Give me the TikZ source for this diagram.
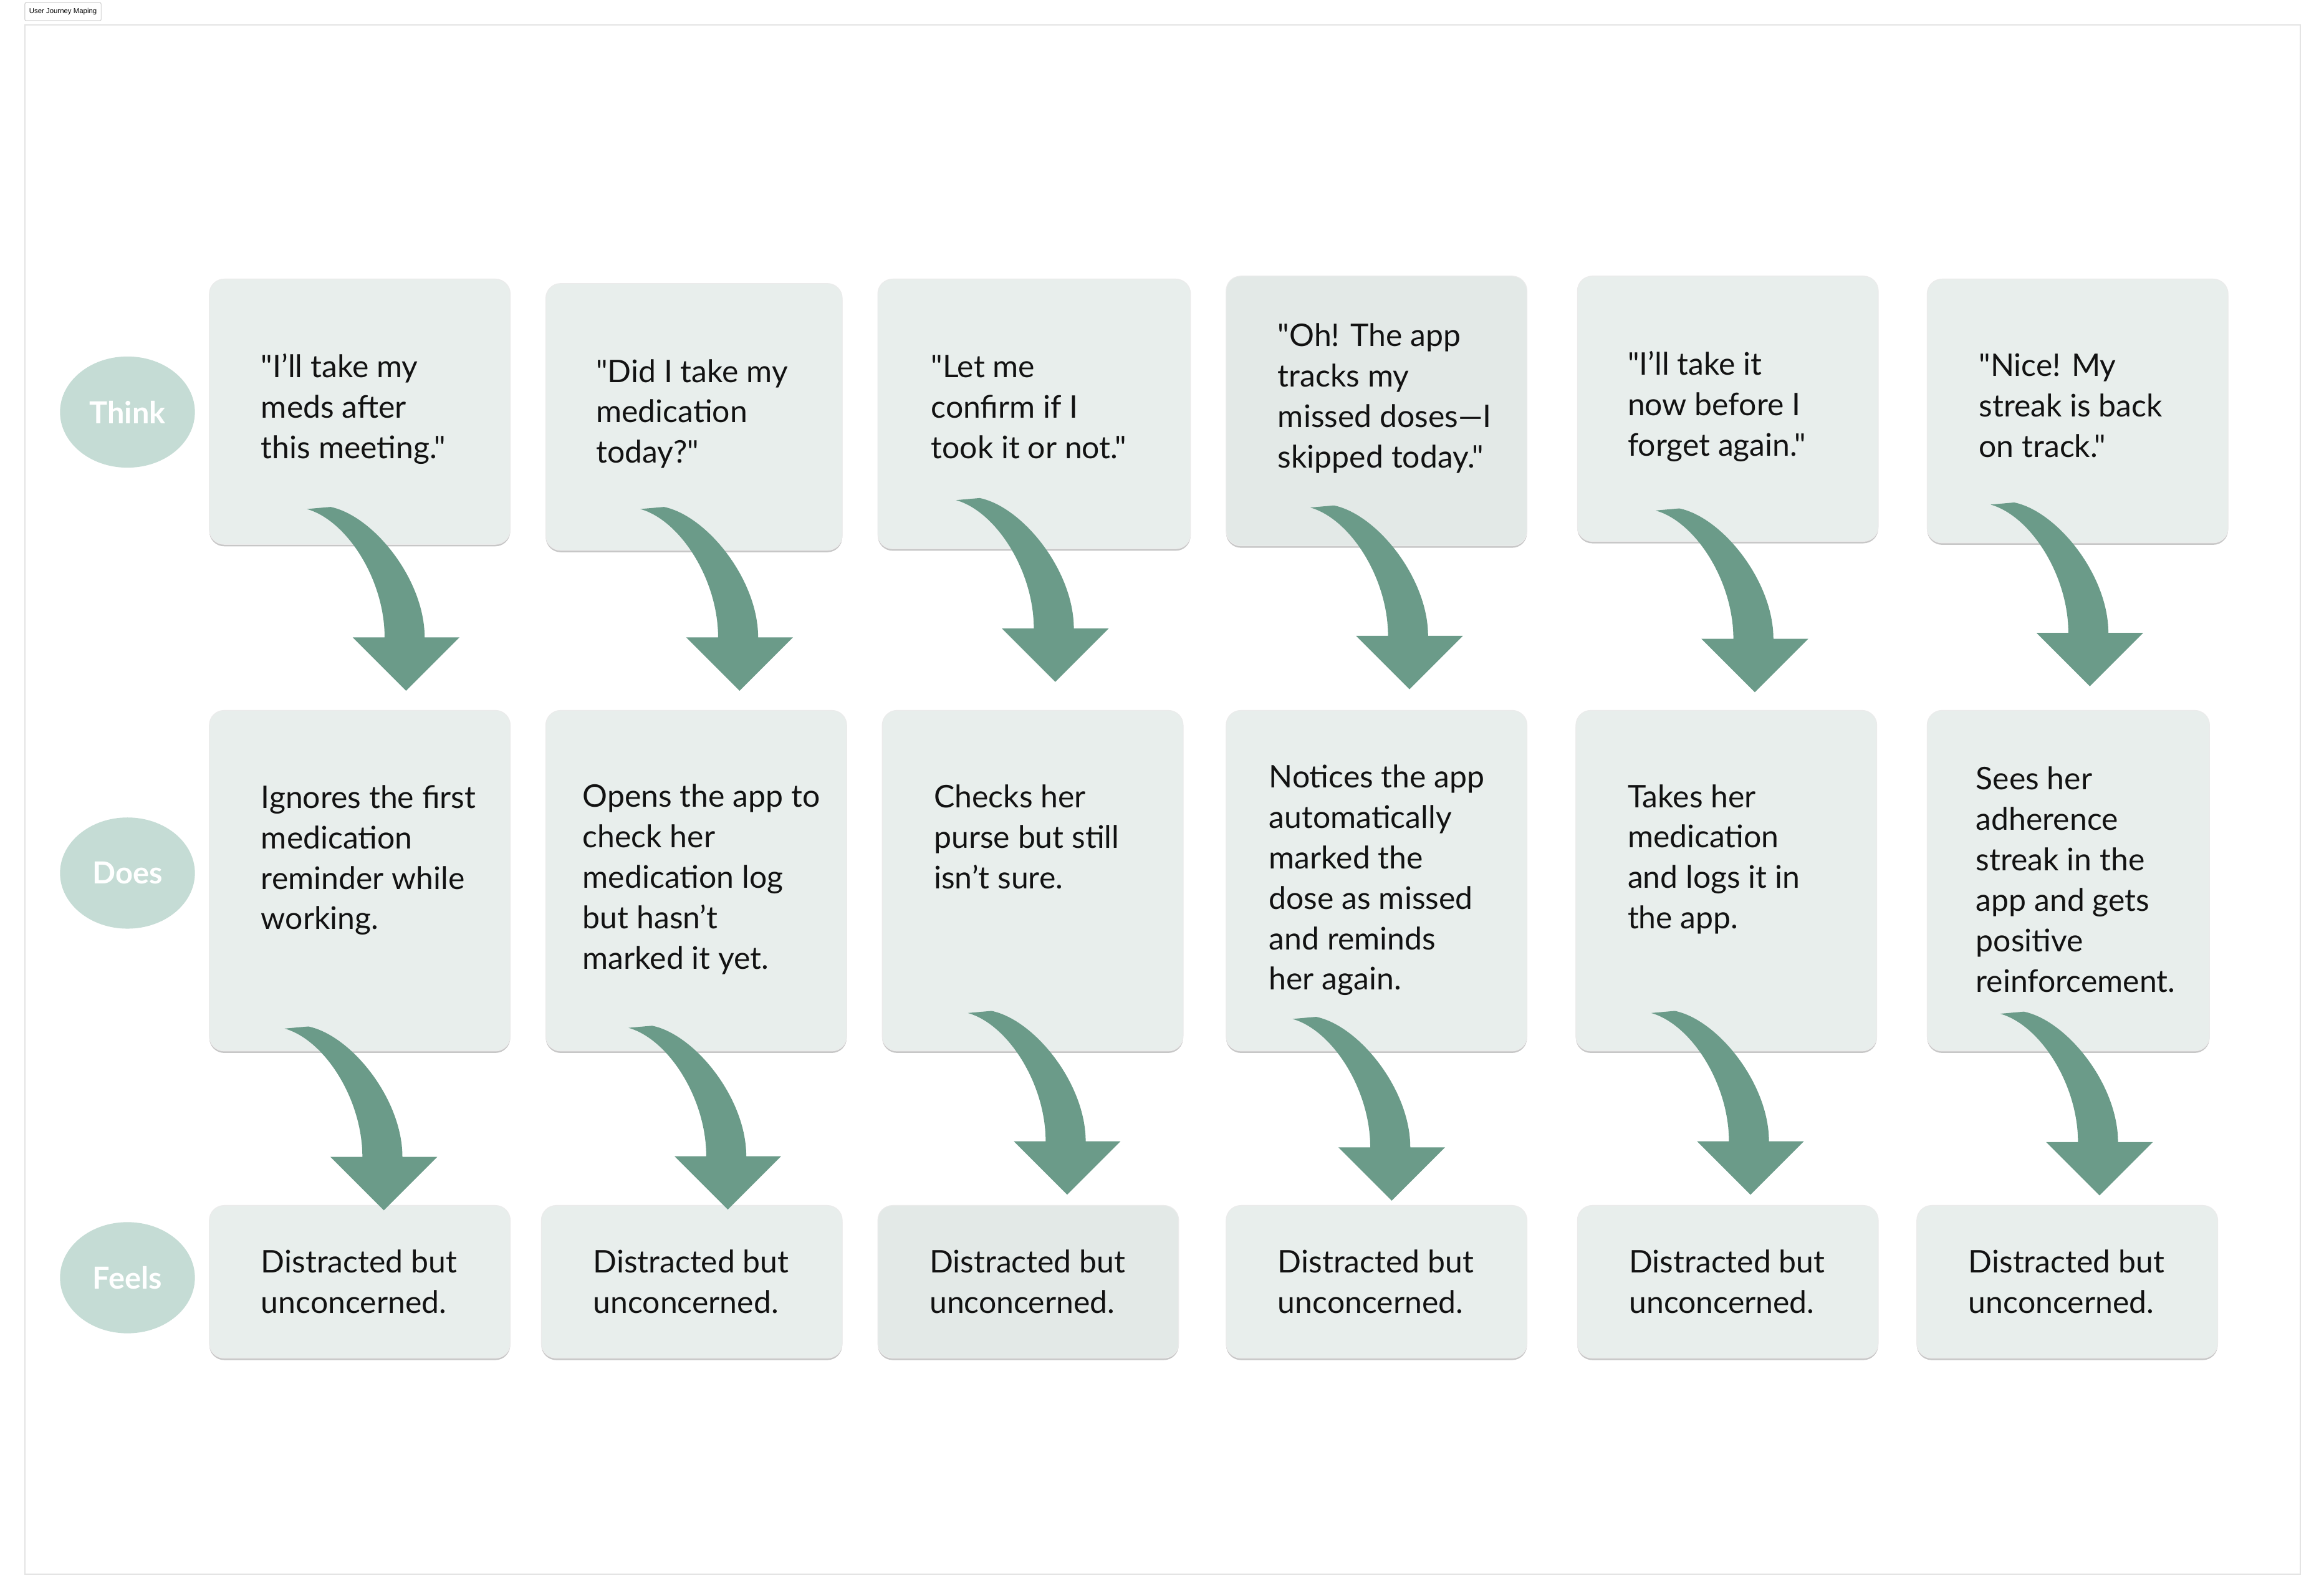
\documentclass[tikz,border=0pt]{standalone}
\usepackage{fontspec}
\setmainfont{Lato}[Ligatures=TeXOff]
\newfontfamily\uifont{Liberation Sans}
\usetikzlibrary{shapes.geometric,shadows}
\definecolor{cardfill}{HTML}{E8EEEC}
\definecolor{carddark}{HTML}{E3E9E7}
\definecolor{ellfill}{HTML}{C5DCD5}
\definecolor{arrowc}{HTML}{6B9B89}
\definecolor{framec}{HTML}{E4E4E4}
\tikzset{
  card/.style={draw=black!8, line width=0.5pt, fill=cardfill, rounded corners=10pt,
    anchor=north west, inner sep=0pt,
    general shadow={fill=black!22, shadow yshift=-1.3pt}},
  darkcard/.style={card, fill=carddark},
  lane/.style={ellipse, fill=ellfill, minimum width=91pt, minimum height=75pt, inner sep=0pt,
    text=white, font=\bfseries\fontsize{20.5}{24}\selectfont},
  txt/.style={anchor=west, align=left, inner sep=0pt, text=black!93,
    font=\fontsize{21}{27.3}\selectfont,
    execute at begin node=\strut, execute at end node=\strut},
  curvearrow/.pic={
    \fill[arrowc] (-51,-124) .. controls (-22,-118) and (12.5,-75) .. (12.5,-36)
      -- (36,-36) -- (0,0) -- (-36,-36) -- (-14.5,-36)
      .. controls (-14.5,-75) and (-40,-115) .. (-67,-122.6) -- cycle;
  }
}
\begin{document}
\begin{tikzpicture}[x=1pt,y=-1pt]
\useasboundingbox (0,0) rectangle (1568,1076.7);
\fill[white] (0,0) rectangle (1568,1076.7);
% frame and title
\draw[framec, line width=0.8pt] (16.8,16.8) rectangle (1552,1062);
\node[draw=black!22, fill=white, rounded corners=1pt, line width=0.4pt, inner sep=0pt,
  minimum width=51.5pt, minimum height=12.3pt, font=\uifont\fontsize{4.8}{5.5}\selectfont]
  (title) at (42.5,7.9) {User Journey Maping};
% lane labels
\node[lane] (think) at (86,278) {Think};
\node[lane] (does) at (86,589) {Does};
\node[lane] (feels) at (86,862) {Feels};
% Think row
\node[card, minimum width=203pt, minimum height=179pt] (t1) at (141,188) {};
\node[card, minimum width=200pt, minimum height=180pt] (t2) at (368,191) {};
\node[card, minimum width=211pt, minimum height=182pt] (t3) at (592,188) {};
\node[darkcard, minimum width=203pt, minimum height=182pt] (t4) at (827,186) {};
\node[card, minimum width=203pt, minimum height=179pt] (t5) at (1064,186) {};
\node[card, minimum width=203pt, minimum height=178pt] (t6) at (1300,188) {};
% Does row
\node[card, minimum width=203pt, minimum height=229.8pt] (d1) at (141,479) {};
\node[card, minimum width=203pt, minimum height=229.8pt] (d2) at (368,479) {};
\node[card, minimum width=203pt, minimum height=229.8pt] (d3) at (595,479) {};
\node[card, minimum width=203pt, minimum height=229.8pt] (d4) at (827,479) {};
\node[card, minimum width=203pt, minimum height=229.8pt] (d5) at (1063,479) {};
\node[card, minimum width=190.5pt, minimum height=229.8pt] (d6) at (1300,479) {};
% Feels row
\node[card, minimum width=203pt, minimum height=103pt] (f1) at (141,813) {};
\node[card, minimum width=203pt, minimum height=103pt] (f2) at (365,813) {};
\node[darkcard, minimum width=203pt, minimum height=103pt] (f3) at (592,813) {};
\node[card, minimum width=203pt, minimum height=103pt] (f4) at (827,813) {};
\node[card, minimum width=203pt, minimum height=103pt] (f5) at (1064,813) {};
\node[card, minimum width=203pt, minimum height=103pt] (f6) at (1293,813) {};
% Think texts
\node[txt] (tt1) at (176,278) {"I’ll take my\\meds after\\this meeting."};
\node[txt] (tt2) at (402,281.5) {"Did I take my\\medication\\today?"};
\node[txt] (tt3) at (628,278.5) {"Let me\\confirm if I\\took it or not."};
\node[txt] (tt4) at (862,271) {"Oh! The app\\tracks my\\missed doses—I\\skipped today."};
\node[txt] (tt5) at (1098,276.5) {"I’ll take it\\now before I\\forget again."};
\node[txt] (tt6) at (1335,277.5) {"Nice! My\\streak is back\\on track."};
% Does texts
\node[txt] (dt1) at (176,582.5) {Ignores the first\\medication\\reminder while\\working.};
\node[txt] (dt2) at (393,595.5) {Opens the app to\\check her\\medication log\\but hasn’t\\marked it yet.};
\node[txt] (dt3) at (630,568.5) {Checks her\\purse but still\\isn’t sure.};
\node[txt] (dt4) at (856,596) {Notices the app\\automatically\\marked the\\dose as missed\\and reminds\\her again.};
\node[txt] (dt5) at (1098,582) {Takes her\\medication\\and logs it in\\the app.};
\node[txt] (dt6) at (1333,597.5) {Sees her\\adherence\\streak in the\\app and gets\\positive\\reinforcement.};
% Feels texts
\node[txt] (ft1) at (176,868.5) {Distracted but\\unconcerned.};
\node[txt] (ft2) at (400,868.5) {Distracted but\\unconcerned.};
\node[txt] (ft3) at (627,868.5) {Distracted but\\unconcerned.};
\node[txt] (ft4) at (862,868.5) {Distracted but\\unconcerned.};
\node[txt] (ft5) at (1099,868.5) {Distracted but\\unconcerned.};
\node[txt] (ft6) at (1328,868.5) {Distracted but\\unconcerned.};
% arrow tips
\coordinate (a1) at (274,466);
\coordinate (a2) at (499,466);
\coordinate (a3) at (712,460);
\coordinate (a4) at (951,465);
\coordinate (a5) at (1184,467);
\coordinate (a6) at (1410,463);
\coordinate (b1) at (259,816.5);
\coordinate (b2) at (491,816);
\coordinate (b3) at (720,806);
\coordinate (b4) at (939,810);
\coordinate (b5) at (1181,806);
\coordinate (b6) at (1416.5,806.5);
\foreach \n in {a1,a2,a3,a4,a5,a6,b1,b2,b3,b4,b5,b6} {\pic at (\n) {curvearrow};}
\end{tikzpicture}
\end{document}
